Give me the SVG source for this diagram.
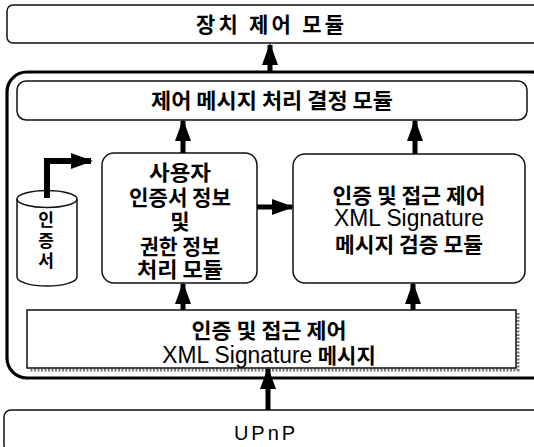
<svg xmlns="http://www.w3.org/2000/svg" width="534" height="447" viewBox="0 0 534 447">
  <style>
    .box { fill: #fff; stroke: #111; stroke-width: 1.5; }
    .outer { fill: none; stroke: #000; stroke-width: 3.2; }
    .ko { font-family: "Noto Sans CJK KR", "Noto Sans", sans-serif; font-weight: 700; font-size: 21px; fill: #000; text-anchor: middle; }
    .la { font-family: "Liberation Sans", Arial, sans-serif; font-weight: 400; fill: #000; }
    .shaft { stroke: #000; stroke-width: 5; fill: none; }
  </style>
  <defs>
    <marker id="head" markerUnits="userSpaceOnUse" markerWidth="24" markerHeight="16" refX="20" refY="8" orient="auto">
      <path d="M0,0 L22,8 L0,16 Z" fill="#000"/>
    </marker>
  </defs>
  <rect width="534" height="447" fill="#fff"/>

  <g id="device-control">
    <rect class="box" x="7" y="5" width="540" height="38" rx="6"/>
    <text class="ko" x="270" y="31.5" textLength="148">장치 제어 모듈</text>
  </g>

  <g id="security-frame">
    <rect class="outer" x="7" y="72" width="545" height="306" rx="20"/>
  </g>

  <g id="message-decision">
    <rect class="box" x="17" y="81" width="510" height="39" rx="9"/>
    <text class="ko" x="272" y="108" textLength="242" lengthAdjust="spacingAndGlyphs">제어 메시지 처리 결정 모듈</text>
  </g>

  <g id="certificate-store">
    <path class="box" d="M17,199 L17,277 A30,9 0 0 0 77,277 L77,199"/>
    <ellipse class="box" cx="47" cy="199" rx="30" ry="8.5"/>
    <text class="ko" x="46" y="226" style="font-size:17px">인</text>
    <text class="ko" x="46" y="247" style="font-size:17px">증</text>
    <text class="ko" x="46" y="267" style="font-size:17px">서</text>
  </g>

  <g id="cert-authority-module">
    <rect class="box" x="102" y="153" width="155" height="130" rx="12"/>
    <text class="ko" x="180" y="180" textLength="62" lengthAdjust="spacingAndGlyphs">사용자</text>
    <text class="ko" x="180" y="205" textLength="102" lengthAdjust="spacingAndGlyphs">인증서 정보</text>
    <text class="ko" x="180" y="229">및</text>
    <text class="ko" x="180" y="254" textLength="80" lengthAdjust="spacingAndGlyphs">권한 정보</text>
    <text class="ko" x="180" y="277" textLength="86" lengthAdjust="spacingAndGlyphs">처리 모듈</text>
  </g>

  <g id="signature-verify-module">
    <rect class="box" x="293" y="154" width="232" height="129" rx="12"/>
    <text class="ko" x="409" y="203" textLength="153" lengthAdjust="spacingAndGlyphs">인증 및 접근 제어</text>
    <text class="la" x="409" y="226" text-anchor="middle" style="font-size:23px" textLength="150" lengthAdjust="spacingAndGlyphs">XML Signature</text>
    <text class="ko" x="409" y="252" textLength="148" lengthAdjust="spacingAndGlyphs">메시지 검증 모듈</text>
  </g>

  <g id="signature-message">
    <path d="M518,313 L518,370 L30,370" fill="none" stroke="#777" stroke-width="3" stroke-dasharray="2 1.5"/>
    <rect x="27" y="310" width="489" height="58" fill="#fff" stroke="#111" stroke-width="1.5"/>
    <text class="ko" x="269" y="338" textLength="155" lengthAdjust="spacingAndGlyphs">인증 및 접근 제어</text>
    <text x="269" y="363" text-anchor="middle"><tspan class="la" style="font-size:23px" textLength="150" lengthAdjust="spacingAndGlyphs">XML Signature</tspan><tspan class="la" style="font-size:20px"> </tspan><tspan class="ko" style="text-anchor:start">메시지</tspan></text>
  </g>

  <g id="upnp">
    <rect class="box" x="4" y="410" width="545" height="42" rx="7"/>
    <text class="la" x="266" y="440" text-anchor="middle" style="font-size:20px" letter-spacing="3">UPnP</text>
  </g>

  <g id="connectors">
    <line class="shaft" x1="270" y1="72" x2="270" y2="45" marker-end="url(#head)"/>
    <line class="shaft" x1="183" y1="153" x2="183" y2="121" marker-end="url(#head)"/>
    <line class="shaft" x1="415" y1="154" x2="415" y2="121" marker-end="url(#head)"/>
    <line class="shaft" x1="257" y1="207" x2="292" y2="207" marker-end="url(#head)"/>
    <polyline class="shaft" style="stroke-width:6" points="47,198 47,161 91,161" marker-end="url(#head)"/>
    <line class="shaft" x1="183" y1="310" x2="183" y2="284" marker-end="url(#head)"/>
    <line class="shaft" x1="413" y1="310" x2="413" y2="284" marker-end="url(#head)"/>
    <line class="shaft" x1="268" y1="410" x2="268" y2="369" marker-end="url(#head)"/>
  </g>
</svg>
